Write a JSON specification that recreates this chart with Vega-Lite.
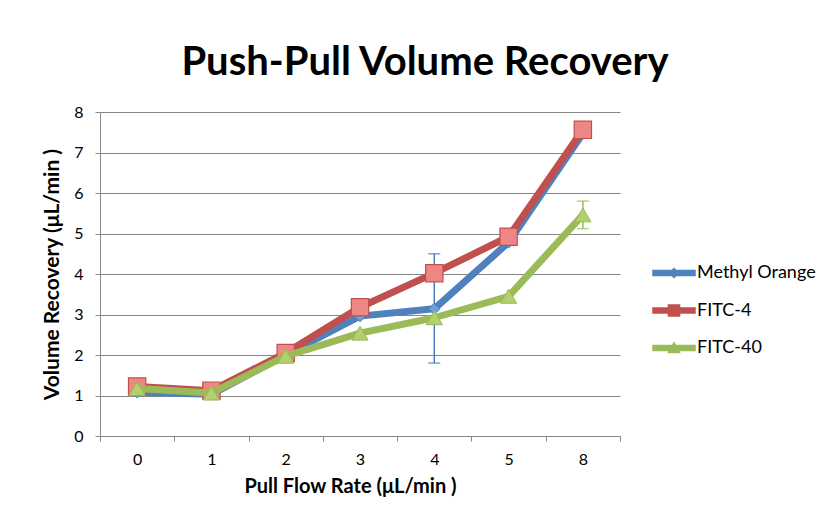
{
  "$schema": "https://vega.github.io/schema/vega-lite/v6.json",
  "width": 520,
  "height": 324,
  "autosize": {"type": "none"},
  "padding": {"left": 100, "top": 112, "right": 213, "bottom": 93},
  "background": "white",
  "title": {
    "text": "Push-Pull Volume Recovery",
    "font": "Lato",
    "fontSize": 40,
    "fontWeight": "bold",
    "color": "#000000",
    "anchor": "middle",
    "baseline": "alphabetic",
    "offset": 33,
    "dx": 65,
    "dy": 44
  },
  "config": {
    "view": {"stroke": null},
    "font": "Lato"
  },
  "data": {
    "values": [
      {"rate": 0, "series": "Methyl Orange", "value": 1.08},
      {"rate": 1, "series": "Methyl Orange", "value": 1.03},
      {"rate": 2, "series": "Methyl Orange", "value": 2.0},
      {"rate": 3, "series": "Methyl Orange", "value": 2.96},
      {"rate": 4, "series": "Methyl Orange", "value": 3.14, "lo": 1.8, "hi": 4.5},
      {"rate": 5, "series": "Methyl Orange", "value": 4.78},
      {"rate": 8, "series": "Methyl Orange", "value": 7.47},
      {"rate": 0, "series": "FITC-4", "value": 1.22},
      {"rate": 1, "series": "FITC-4", "value": 1.12},
      {"rate": 2, "series": "FITC-4", "value": 2.05},
      {"rate": 3, "series": "FITC-4", "value": 3.18},
      {"rate": 4, "series": "FITC-4", "value": 4.02},
      {"rate": 5, "series": "FITC-4", "value": 4.92},
      {"rate": 8, "series": "FITC-4", "value": 7.56},
      {"rate": 0, "series": "FITC-40", "value": 1.17},
      {"rate": 1, "series": "FITC-40", "value": 1.06},
      {"rate": 2, "series": "FITC-40", "value": 1.97},
      {"rate": 3, "series": "FITC-40", "value": 2.54},
      {"rate": 4, "series": "FITC-40", "value": 2.92},
      {"rate": 5, "series": "FITC-40", "value": 3.45},
      {"rate": 8, "series": "FITC-40", "value": 5.46, "lo": 5.12, "hi": 5.8}
    ]
  },
  "encoding": {
    "x": {
      "field": "rate",
      "type": "ordinal",
      "scale": {"type": "band", "domain": [0, 1, 2, 3, 4, 5, 8], "paddingInner": 0, "paddingOuter": 0},
      "axis": {
        "title": "Pull Flow Rate (μL/min )",
        "labelAngle": 0,
        "labelFont": "Lato",
        "labelFontSize": 16,
        "labelColor": "#000000",
        "labelPadding": 10,
        "tickBand": "extent",
        "tickSize": 5,
        "tickColor": "#888888",
        "domainColor": "#888888",
        "titleFont": "Lato",
        "titleFontSize": 20,
        "titleFontWeight": "bold",
        "titleColor": "#000000",
        "titlePadding": 9,
        "titleX": 250
      }
    },
    "y": {
      "field": "value",
      "type": "quantitative",
      "scale": {"domain": [0, 8], "nice": false},
      "axis": {
        "title": "Volume Recovery (μL/min )",
        "values": [0, 1, 2, 3, 4, 5, 6, 7, 8],
        "grid": true,
        "gridColor": "#868686",
        "gridWidth": 1,
        "labelFont": "Lato",
        "labelFontSize": 16,
        "labelColor": "#000000",
        "labelPadding": 12,
        "tickSize": 5,
        "tickColor": "#888888",
        "domainColor": "#888888",
        "titleFont": "Lato",
        "titleFontSize": 21,
        "titleFontWeight": "bold",
        "titleColor": "#000000",
        "titlePadding": 11
      }
    }
  },
  "layer": [
    {
      "transform": [{"filter": "datum.series === 'Methyl Orange'"}],
      "layer": [
        {
          "transform": [{"filter": "isValid(datum.lo)"}],
          "mark": {"type": "rule", "color": "#4A7EBB", "strokeWidth": 1.5},
          "encoding": {"y": {"field": "lo", "type": "quantitative"}, "y2": {"field": "hi"}}
        },
        {
          "transform": [{"filter": "isValid(datum.lo)"}, {"fold": ["lo", "hi"], "as": ["end", "endval"]}],
          "mark": {"type": "tick", "color": "#4A7EBB", "size": 12, "thickness": 1.5, "orient": "horizontal"},
          "encoding": {"y": {"field": "endval", "type": "quantitative"}}
        },
        {
          "mark": {"type": "line", "color": "#4F81BD", "strokeWidth": 7, "strokeJoin": "round"},
          "encoding": {}
        },
        {
          "mark": {"type": "point", "shape": "diamond", "filled": true, "fill": "#6FA0DC", "stroke": "#4A7EBB", "strokeWidth": 1, "size": 130, "opacity": 1},
          "encoding": {}
        }
      ]
    },
    {
      "transform": [{"filter": "datum.series === 'FITC-4'"}],
      "layer": [
        {
          "mark": {"type": "line", "color": "#C0504D", "strokeWidth": 7, "strokeJoin": "round"},
          "encoding": {}
        },
        {
          "mark": {"type": "point", "shape": "square", "filled": true, "fill": "#EE8784", "stroke": "#C0504D", "strokeWidth": 1.2, "size": 300, "opacity": 1},
          "encoding": {}
        }
      ]
    },
    {
      "transform": [{"filter": "datum.series === 'FITC-40'"}],
      "layer": [
        {
          "transform": [{"filter": "isValid(datum.lo)"}],
          "mark": {"type": "rule", "color": "#9BBB59", "strokeWidth": 1.5},
          "encoding": {"y": {"field": "lo", "type": "quantitative"}, "y2": {"field": "hi"}}
        },
        {
          "transform": [{"filter": "isValid(datum.lo)"}, {"fold": ["lo", "hi"], "as": ["end", "endval"]}],
          "mark": {"type": "tick", "color": "#9BBB59", "size": 12, "thickness": 1.5, "orient": "horizontal"},
          "encoding": {"y": {"field": "endval", "type": "quantitative"}}
        },
        {
          "mark": {"type": "line", "color": "#9BBB59", "strokeWidth": 7, "strokeJoin": "round"},
          "encoding": {}
        },
        {
          "mark": {"type": "point", "shape": "triangle-up", "filled": true, "fill": "#B2D06B", "stroke": "#98B954", "strokeWidth": 1, "size": 260, "opacity": 1},
          "encoding": {}
        }
      ]
    },
    {
      "transform": [{"filter": "false"}],
      "mark": {"type": "point", "filled": true, "opacity": 1, "size": 900},
      "encoding": {
        "color": {
          "field": "series",
          "type": "nominal",
          "scale": {"domain": ["Methyl Orange", "FITC-4", "FITC-40"], "range": ["#4F81BD", "#C0504D", "#9BBB59"]},
          "legend": {
            "title": null,
            "orient": "none",
            "legendX": 559,
            "legendY": 146,
            "symbolSize": 900,
            "symbolStrokeWidth": 0,
            "labelFont": "Lato",
            "labelFontSize": 18,
            "labelColor": "#000000",
            "labelOffset": 8,
            "rowPadding": 13.5
          }
        },
        "shape": {
          "field": "series",
          "type": "nominal",
          "scale": {
            "domain": ["Methyl Orange", "FITC-4", "FITC-40"],
            "range": [
              "M-1.45,-0.22H1.45V0.22H-1.45Z M0,-0.36L0.36,0L0,0.36L-0.36,0Z",
              "M-1.45,-0.22H1.45V0.22H-1.45Z M-0.42,-0.42H0.42V0.42H-0.42Z",
              "M-1.45,-0.22H1.45V0.22H-1.45Z M0,-0.45L0.45,0.35H-0.45Z"
            ]
          },
          "legend": {
            "title": null,
            "orient": "none",
            "legendX": 559,
            "legendY": 146,
            "symbolSize": 900,
            "symbolStrokeWidth": 0,
            "labelFont": "Lato",
            "labelFontSize": 18,
            "labelColor": "#000000",
            "labelOffset": 8,
            "rowPadding": 13.5
          }
        }
      }
    }
  ]
}
